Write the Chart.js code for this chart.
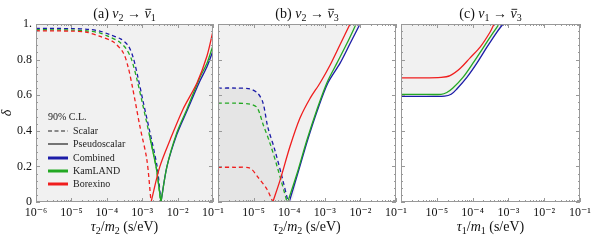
<!DOCTYPE html>
<html>
<head>
<meta charset="utf-8">
<script src="https://cdn.jsdelivr.net/npm/chart.js@4.4.1/dist/chart.umd.min.js"></script>
<style>
  html, body { margin: 0; padding: 0; background: #fff; }
  #wrap { position: relative; width: 598px; height: 241px; }
  #wrap canvas { position: absolute; left: 0; top: 0; }
</style>
</head>
<body>
<div id="wrap">
  <canvas id="pa" width="598" height="241"></canvas>
  <canvas id="pb" width="598" height="241"></canvas>
  <canvas id="pc" width="598" height="241"></canvas>
</div>
<script>
'use strict';
// x values are log10(tau/m) in s/eV, y is delta
const xTickVals = [1e-6, 1e-5, 1e-4, 1e-3, 1e-2, 1e-1];
const xTickLabels = ['10⁻⁶', '10⁻⁵', '10⁻⁴', '10⁻³', '10⁻²', '10⁻¹'];
const yTickVals = [0, 0.2, 0.4, 0.6, 0.8, 1];
const yTickLabels = ['0', '0.2', '0.4', '0.6', '0.8', '1.'];
const legendLabels = ['Scalar', 'Pseudoscalar', 'Combined', 'KamLAND', 'Borexino'];

// (a) nu2 -> anti-nu1
const aBlueDashX = [-6, -5, -4.5, -4.2, -3.91, -3.6, -3.4, -3.26, -3.12, -2.98, -2.78, -2.58, -2.47];
const aBlueDashY = [0.975, 0.974, 0.97, 0.96, 0.94, 0.915, 0.88, 0.815, 0.7, 0.57, 0.39, 0.2, 0];
const aGreenDashX = [-6, -5, -4.5, -4.2, -3.95, -3.65, -3.45, -3.3, -3.15, -3.0, -2.8, -2.6, -2.48];
const aGreenDashY = [0.968, 0.966, 0.96, 0.95, 0.93, 0.9, 0.86, 0.8, 0.69, 0.56, 0.38, 0.19, 0];
const aRedDashX = [-6, -5, -4.6, -4.19, -3.82, -3.54, -3.4, -3.26, -3.06, -2.87, -2.75];
const aRedDashY = [0.962, 0.96, 0.955, 0.93, 0.9, 0.84, 0.76, 0.63, 0.42, 0.24, 0];
const aLeftX = [-2.8, -2.6, -2.47];
const aLeftY = [0.38, 0.19, 0];
const aBlueX = [-2.47, -2.3, -2.02, -1.74, -1.37, -1.17, -1.0];
const aBlueY = [0, 0.2, 0.38, 0.51, 0.68, 0.76, 0.85];
const aGreenX = [-2.47, -2.3, -2.02, -1.74, -1.37, -1.17, -1.0];
const aGreenY = [0, 0.2, 0.39, 0.52, 0.7, 0.78, 0.88];
const aRedX = [-2.75, -2.5, -2.21, -1.85, -1.45, -1.17, -1.0];
const aRedY = [0, 0.2, 0.35, 0.52, 0.67, 0.82, 0.96];

// (b) nu2 -> anti-nu3
const bBlueDashX = [-6, -5.5, -5.1, -4.88, -4.74, -4.6, -4.4, -4.2, -4.03];
const bBlueDashY = [0.64, 0.64, 0.635, 0.61, 0.56, 0.42, 0.29, 0.14, 0];
const bGreenDashX = [-6, -5.5, -5.1, -4.9, -4.74, -4.54, -4.34, -4.06];
const bGreenDashY = [0.555, 0.555, 0.55, 0.53, 0.44, 0.33, 0.2, 0];
const bRedDashX = [-6, -5.5, -5.1, -4.88, -4.62, -4.46];
const bRedDashY = [0.195, 0.195, 0.19, 0.14, 0.07, 0];
const bBlueX = [-4.0, -3.76, -3.48, -3.2, -2.91, -2.57, -2.29, -2.01];
const bBlueY = [0, 0.16, 0.35, 0.52, 0.67, 0.78, 0.89, 1.0];
const bGreenX = [-4.04, -3.78, -3.5, -3.22, -2.94, -2.66, -2.38, -2.12];
const bGreenY = [0, 0.16, 0.35, 0.52, 0.67, 0.78, 0.89, 1.0];
const bRedX = [-4.46, -4.26, -3.98, -3.7, -3.42, -3.13, -2.85, -2.57, -2.29];
const bRedY = [0, 0.12, 0.31, 0.47, 0.58, 0.67, 0.77, 0.885, 1.0];

// (c) nu1 -> anti-nu3
const cBlueX = [-6, -5.5, -4.78, -4.6, -4.44, -4.16, -3.88, -3.6, -3.32, -3.15];
const cBlueY = [0.593, 0.593, 0.595, 0.605, 0.635, 0.7, 0.78, 0.87, 0.955, 1.0];
const cGreenX = [-6, -5.5, -4.88, -4.72, -4.55, -4.27, -3.99, -3.71, -3.43, -3.26];
const cGreenY = [0.605, 0.605, 0.605, 0.615, 0.64, 0.7, 0.78, 0.865, 0.95, 1.0];
const cRedX = [-6, -5.5, -4.88, -4.63, -4.35, -4.07, -3.79, -3.51, -3.4];
const cRedY = [0.697, 0.697, 0.7, 0.71, 0.75, 0.81, 0.87, 0.955, 1.0];

const BLUE = '#1c1ca8', GREEN = '#23a823', RED = '#f01e1e';
const SHADE = '#f1f1f1', SHADE2 = '#e5e5e5';
const SERIF = '"Liberation Serif", "DejaVu Serif", serif';

const pts = (xs, ys) => xs.map((e, i) => ({x: Math.pow(10, e), y: ys[i]}));
const line = (xs, ys, color, dash, order, tension) => ({
  data: pts(xs, ys), borderColor: color, borderWidth: 1.3,
  borderDash: dash ? [4, 3] : [], pointRadius: 0,
  tension: tension === undefined ? 0.3 : tension, fill: false, order
});
const shade = (data, fill, color, order) => ({
  data, borderWidth: 0, borderColor: 'rgba(0,0,0,0)', backgroundColor: color,
  pointRadius: 0, tension: 0.3, fill, order
});

// draw mixed text (italic letters, subscripts, overbar)
function rich(ctx, parts, cx, y) {
  const fnt = p => (p.i ? 'italic ' : '') + p.s + 'px ' + SERIF;
  let w = 0;
  parts.forEach(p => { ctx.font = fnt(p); w += ctx.measureText(p.t).width; });
  let x = cx - w / 2;
  parts.forEach(p => {
    ctx.font = fnt(p);
    const pw = ctx.measureText(p.t).width;
    ctx.fillText(p.t, x, y + (p.dy || 0));
    if (p.bar) {
      ctx.beginPath(); ctx.lineWidth = 0.9;
      ctx.moveTo(x + 1, y - p.s * 0.62); ctx.lineTo(x + pw + 0.5, y - p.s * 0.62); ctx.stroke();
    }
    x += pw;
  });
}

const framePlugin = {
  id: 'frame',
  beforeDraw(chart, args, o) {
    const a = chart.chartArea, ctx = chart.ctx;
    if (o.bg) {
      ctx.save(); ctx.fillStyle = o.bg;
      ctx.fillRect(a.left, a.top, a.right - a.left, a.bottom - a.top);
      ctx.restore();
    }
  },
  afterDraw(chart, args, o) {
    const a = chart.chartArea, ctx = chart.ctx, xs = chart.scales.x, ys = chart.scales.y;
    ctx.save();
    ctx.strokeStyle = '#999'; ctx.lineWidth = 1;
    ctx.beginPath();
    for (let e = -6; e <= -1; e++) {
      for (let k = 1; k <= 9; k++) {
        const v = k * Math.pow(10, e);
        if (v > 0.1001) break;
        const px = Math.round(xs.getPixelForValue(v)) + 0.5, len = k === 1 ? 4 : 2;
        ctx.moveTo(px, a.bottom); ctx.lineTo(px, a.bottom - len);
        ctx.moveTo(px, a.top); ctx.lineTo(px, a.top + len);
      }
    }
    for (let i = 0; i <= 25; i++) {
      const py = Math.round(ys.getPixelForValue(i * 0.04)) + 0.5, len = i % 5 === 0 ? 4 : 2;
      ctx.moveTo(a.left, py); ctx.lineTo(a.left + len, py);
      ctx.moveTo(a.right, py); ctx.lineTo(a.right - len, py);
    }
    ctx.stroke();
    ctx.strokeRect(Math.round(a.left) + 0.5, Math.round(a.top) + 0.5,
      Math.round(a.right - a.left) - 1, Math.round(a.bottom - a.top) - 1);

    ctx.fillStyle = '#111'; ctx.strokeStyle = '#111';
    ctx.textBaseline = 'alphabetic';
    const cx = (a.left + a.right) / 2;
    rich(ctx, o.title, cx, 18);
    rich(ctx, o.xTitle, cx, 231);

    if (o.yTitle) {
      ctx.save();
      ctx.translate(11, (a.top + a.bottom) / 2);
      ctx.rotate(-Math.PI / 2);
      ctx.font = 'italic 14px ' + SERIF; ctx.textAlign = 'center';
      ctx.fillText('δ', 0, 0);
      ctx.restore();
    }

    if (o.legend) {
      const x0 = a.left + 12;
      ctx.font = '10px ' + SERIF; ctx.textBaseline = 'middle'; ctx.fillStyle = '#222';
      ctx.fillText('90% C.L.', x0, 117);
      const rows = [131, 144, 158, 171, 184];
      const cols = ['#222', '#222', BLUE, GREEN, RED];
      legendLabels.forEach((lab, i) => {
        ctx.beginPath();
        ctx.strokeStyle = cols[i];
        ctx.lineWidth = i < 2 ? 1.2 : 3;
        ctx.setLineDash(i === 0 ? [4, 2.5] : []);
        ctx.moveTo(x0, rows[i]); ctx.lineTo(x0 + 20, rows[i]); ctx.stroke();
        ctx.setLineDash([]);
        ctx.fillText(lab, x0 + 25, rows[i] + 0.5);
      });
    }
    ctx.restore();
  }
};

function panel(id, pad, datasets, frame, showY) {
  return new Chart(document.getElementById(id), {
    type: 'line',
    data: { datasets },
    plugins: [framePlugin],
    options: {
      responsive: false, animation: false, events: [],
      layout: { padding: { left: pad[0], right: pad[1], top: 24, bottom: 0 } },
      scales: {
        x: {
          type: 'logarithmic', min: 1e-6, max: 1e-1,
          afterBuildTicks: s => { s.ticks = xTickVals.map(v => ({value: v})); },
          afterFit: s => { s.height = 39; },
          grid: { display: false, drawTicks: false }, border: { display: false },
          ticks: {
            padding: 4, color: '#111', maxRotation: 0, autoSkip: false,
            font: { family: SERIF, size: 12 },
            callback: (v, i) => (!showY && i === 0) ? '' : xTickLabels[i]
          }
        },
        y: {
          display: showY, min: 0, max: 1,
          afterBuildTicks: s => { s.ticks = yTickVals.map(v => ({value: v})); },
          afterFit: s => { s.width = showY ? 36 : 0; },
          grid: { display: false, drawTicks: false }, border: { display: false },
          ticks: {
            padding: 4, color: '#111',
            font: { family: SERIF, size: 12 },
            callback: (v, i) => yTickLabels[i]
          }
        }
      },
      plugins: { legend: { display: false }, tooltip: { enabled: false }, frame }
    }
  });
}

const title = (lab, a, b) => [
  {t: '(' + lab + ') ', s: 14}, {t: 'ν', s: 14, i: true}, {t: a, s: 10, dy: 3},
  {t: ' → ', s: 14}, {t: 'ν', s: 14, i: true, bar: true}, {t: b, s: 10, dy: 3}
];
const xTitle = n => [
  {t: 'τ', s: 14, i: true}, {t: n, s: 10, dy: 3}, {t: '/', s: 14},
  {t: 'm', s: 14, i: true}, {t: n, s: 10, dy: 3}, {t: ' (s/eV)', s: 14}
];

panel('pa', [0, 385], [
  line(aRedX, aRedY, RED, false, 1),
  line(aRedDashX, aRedDashY, RED, true, 1),
  line(aGreenX, aGreenY, GREEN, false, 2),
  line(aLeftX, aLeftY, GREEN, false, 2, 0),
  line(aGreenDashX, aGreenDashY, GREEN, true, 2),
  line(aBlueX, aBlueY, BLUE, false, 3),
  line(aBlueDashX, aBlueDashY, BLUE, true, 3)
], { bg: SHADE, title: title('a', '2', '1'), xTitle: xTitle('2'), yTitle: true, legend: true }, true);

panel('pb', [218, 202], [
  line(bRedX, bRedY, RED, false, 1),
  line(bRedDashX, bRedDashY, RED, true, 1),
  line(bGreenX, bGreenY, GREEN, false, 2),
  line(bGreenDashX, bGreenDashY, GREEN, true, 2),
  line(bBlueX, bBlueY, BLUE, false, 3),
  line(bBlueDashX, bBlueDashY, BLUE, true, 3),
  shade(pts(bBlueDashX, bBlueDashY), 'origin', SHADE2, 15),
  shade([{x: 1e-6, y: 0}].concat(pts(bBlueX, bBlueY)), 'end', SHADE, 20)
], { title: title('b', '2', '3'), xTitle: xTitle('2') }, false);

panel('pc', [401, 18], [
  line(cRedX, cRedY, RED, false, 1),
  line(cGreenX, cGreenY, GREEN, false, 2),
  line(cBlueX, cBlueY, BLUE, false, 3),
  shade(pts(cBlueX, cBlueY), 'end', SHADE, 20)
], { title: title('c', '1', '3'), xTitle: xTitle('1') }, false);
</script>
</body>
</html>
